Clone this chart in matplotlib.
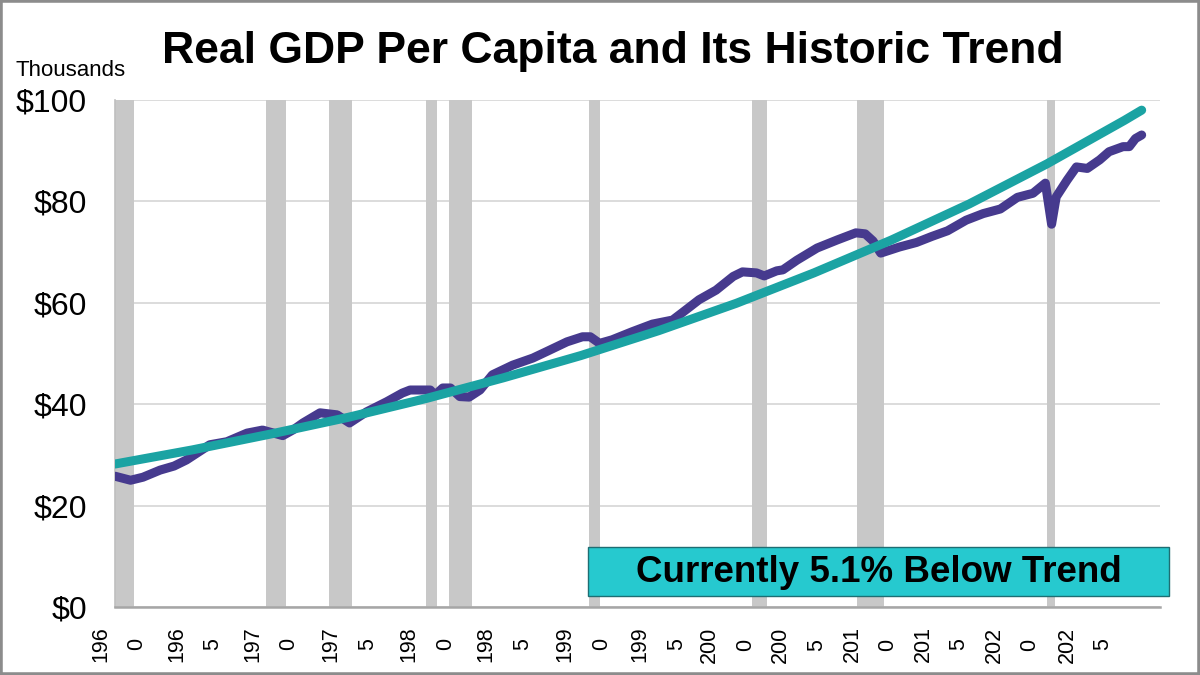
import matplotlib

matplotlib.use("Agg")
import matplotlib.pyplot as plt
from matplotlib.patches import Rectangle

plt.rcParams["font.family"] = ["Liberation Sans", "DejaVu Sans"]

# --- data (decimal years, $ thousands) ---
gdp_years = [1960.0, 1960.5, 1961.0, 1961.8, 1962.9, 1963.8, 1964.6, 1965.5, 1966.1, 1967.2,
             1968.5, 1969.5, 1970.8, 1971.5, 1972.1, 1973.2, 1974.3, 1975.1, 1976.2, 1977.5,
             1978.5, 1979.0, 1980.3, 1980.6, 1981.1, 1981.6, 1982.2, 1982.8, 1983.5, 1984.3,
             1985.6, 1986.9, 1987.8, 1989.1, 1990.1, 1990.6, 1991.2, 1992.0, 1993.3, 1994.6,
             1995.9, 1996.5, 1997.6, 1998.7, 1999.8, 2000.4, 2001.3, 2001.8, 2002.6, 2003.0,
             2003.9, 2005.2, 2006.5, 2007.7, 2008.3, 2008.8, 2009.3, 2010.5, 2011.6, 2012.6,
             2013.6, 2014.8, 2015.9, 2017.0, 2018.1, 2019.1, 2019.9, 2020.3, 2020.6, 2021.3,
             2021.9, 2022.6, 2023.4, 2024.0, 2024.9, 2025.3, 2025.7, 2026.1]
gdp_values = [25.8, 25.4, 25.0, 25.6, 27.0, 27.8, 29.0, 30.8, 32.0, 32.6,
              34.3, 34.9, 33.8, 35.0, 36.3, 38.3, 37.9, 36.3, 38.5, 40.5,
              42.2, 42.8, 42.8, 41.8, 43.2, 43.2, 41.5, 41.4, 42.8, 45.8,
              47.7, 49.1, 50.4, 52.3, 53.3, 53.3, 52.0, 52.7, 54.3, 55.8,
              56.6, 58.0, 60.6, 62.5, 65.2, 66.1, 65.9, 65.3, 66.3, 66.5,
              68.4, 70.8, 72.4, 73.8, 73.6, 72.2, 69.8, 71.0, 71.9, 73.1,
              74.2, 76.3, 77.6, 78.5, 80.8, 81.6, 83.6, 75.5, 80.9, 84.2,
              86.8, 86.5, 88.2, 89.8, 90.8, 90.8, 92.4, 93.1]

trend_years = [1960, 1965, 1970, 1975, 1980, 1985, 1990, 1995, 2000, 2005, 2010, 2015,
               2020, 2025, 2026.1]
trend_values = [28.2, 31.0, 34.1, 37.4, 41.1, 45.2, 49.6, 54.5, 59.9, 65.9, 72.4, 79.5,
                87.4, 96.0, 98.0]

# recessions (start, end) in decimal years; the first one is drawn from the axis edge
rec_start = [1960.0, 1969.75, 1973.75, 1980.0, 1981.5, 1990.5, 2001.0, 2007.75, 2020.0]
rec_end = [1961.25, 1971.0, 1975.25, 1980.75, 1983.0, 1991.25, 2002.0, 2009.5, 2020.5]

tick_labels = ["196\n0", "196\n5", "197\n0", "197\n5", "198\n0", "198\n5", "199\n0",
               "199\n5", "200\n0", "200\n5", "201\n0", "201\n5", "202\n0", "202\n5"]
# where the labels sit on the axis in the reference (they drift from the true years)
tick_pos = [1960.23, 1965.12, 1970.01, 1975.09, 1980.11, 1985.06, 1990.15,
            1994.97, 1999.41, 2003.98, 2008.61, 2013.18, 2017.75, 2022.45]

PURPLE = "#463a8e"
TEAL = "#1ba3a3"

fig = plt.figure(figsize=(12, 6.75), dpi=100)
ax = fig.add_axes([115 / 1200, 68 / 675, 1045 / 1200, 507 / 675])

for s, e in zip(rec_start, rec_end):
    ax.axvspan(s, e, color="#c8c8c8", lw=0, zorder=1)

ax.plot(gdp_years, gdp_values, color=PURPLE, lw=6.5, solid_capstyle="round",
        solid_joinstyle="round", zorder=3)
ax.plot(trend_years, trend_values, color=TEAL, lw=6.5, solid_capstyle="round", zorder=4)

ax.set_xlim(1960.0, 2027.28)
ax.set_ylim(0, 100)
ax.set_yticks([0, 20, 40, 60, 80, 100])
ax.set_yticklabels([f"${v}" for v in [0, 20, 40, 60, 80, 100]], fontsize=23)
ax.tick_params(axis="y", length=0, pad=20)
ax.grid(axis="y", color="#d9d9d9", lw=1.3, zorder=0)
ax.set_axisbelow(True)

ax.set_xticks(tick_pos)
ax.set_xticklabels(tick_labels, rotation=90, fontsize=15.5, ha="center", va="top",
                   multialignment="center", linespacing=1.95)
ax.tick_params(axis="x", length=0, pad=14)

for side in ["top", "right"]:
    ax.spines[side].set_visible(False)
ax.spines["left"].set_color("#bfbfbf")
ax.spines["left"].set_linewidth(1.2)
ax.spines["bottom"].set_color("#a6a6a6")
ax.spines["bottom"].set_linewidth(1.8)

fig.text(15 / 1200, 1 - 70 / 675, "Thousands", fontsize=16, va="center", ha="left")
fig.text(613 / 1200, 1 - 52 / 675, "Real GDP Per Capita and Its Historic Trend",
         fontsize=32, fontweight="bold", ha="center", va="center")

# callout box
fig.patches.append(Rectangle((588 / 1200, (675 - 596) / 675), 581 / 1200, 49 / 675,
                             transform=fig.transFigure, facecolor="#26c9cf",
                             edgecolor="#1e6e73", lw=1, zorder=5))
fig.text(879 / 1200, 1 - 572 / 675, "Currently 5.1% Below Trend", fontsize=26.5,
         fontweight="bold", ha="center", va="center", zorder=6)

# frame around the whole picture
fig.patches.append(Rectangle((0, 0), 1, 1, transform=fig.transFigure, fill=False,
                             edgecolor="#8c8c8c", lw=4, zorder=10))

fig.savefig("out.png", dpi=100)
